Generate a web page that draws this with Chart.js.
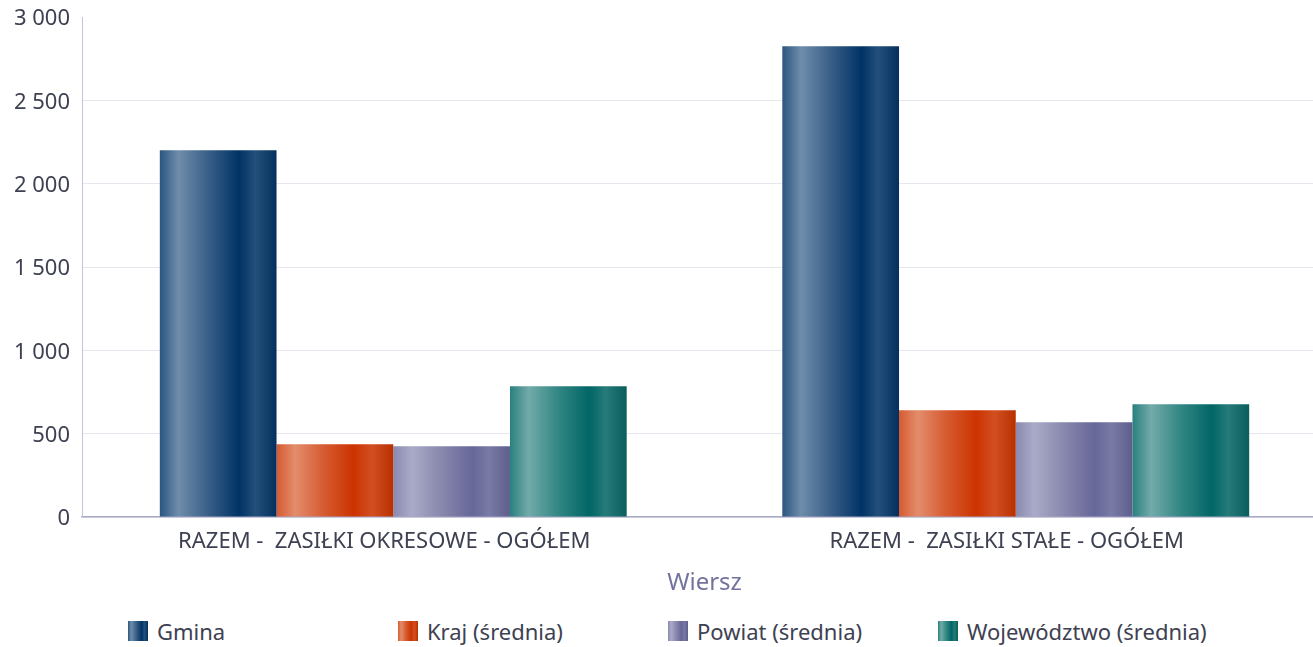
<!DOCTYPE html>
<html lang="pl">
<head>
    <meta charset="UTF-8">
    <title>Wykres</title>
    <script src="https://cdn.jsdelivr.net/npm/chart.js"></script>
    <style>
        body { margin: 0; width: 1313px; height: 647px; overflow: hidden; background: #fff; font-family: "Noto Sans", sans-serif; }
        .wykres { position: relative; width: 1327px; height: 600px; }
        .legenda { position: absolute; left: 128px; top: 616px; display: flex; }
        .pozycja { width: 270px; display: flex; align-items: center; font-size: 22px; color: #3d4151; }
        .kwadrat { width: 20px; height: 20px; margin-right: 9px; }
    </style>
</head>
<body>

    <div class="wykres">
        <canvas id="myChart"></canvas>
    </div>
    <div class="legenda" id="legenda"></div>

<script>

    // dane
    var kategorie = ['RAZEM -  ZASIŁKI OKRESOWE - OGÓŁEM', 'RAZEM -  ZASIŁKI STAŁE - OGÓŁEM'];
    var serie = ['Gmina', 'Kraj (średnia)', 'Powiat (średnia)', 'Województwo (średnia)'];
    var gmina = [2200, 2824];
    var kraj = [436, 640];
    var powiat = [424, 568];
    var wojewodztwo = [784, 676];
    var osY = { min: 0, max: 3000, krok: 500 };

    // gradienty w poziomie dla kazdego slupka
    var kolory = [
        [[0, '#2b5580'], [0.16, '#6f8dab'], [0.4, '#3c6189'], [0.68, '#003366'], [0.82, '#244f7a'], [1, '#03305e']],
        [[0, '#d65a30'], [0.16, '#e38d6c'], [0.4, '#d65c32'], [0.66, '#cc3300'], [0.82, '#d24f22'], [1, '#b83000']],
        [[0, '#8a8ab0'], [0.16, '#aaaac8'], [0.4, '#8a89ae'], [0.68, '#666699'], [0.82, '#7a7aa6'], [1, '#5e5e8c']],
        [[0, '#2a8080'], [0.16, '#72aba9'], [0.4, '#358885'], [0.68, '#006666'], [0.82, '#267b79'], [1, '#095e5e']]
    ];

    var gradientSlupki = {
        id: 'gradientSlupki',
        beforeDatasetsDraw: function (chart) {
            var ctx = chart.ctx;
            chart.data.datasets.forEach(function (ds, i) {
                chart.getDatasetMeta(i).data.forEach(function (bar) {
                    var g = ctx.createLinearGradient(bar.x - bar.width / 2, 0, bar.x + bar.width / 2, 0);
                    kolory[i].forEach(function (s) { g.addColorStop(s[0], s[1]); });
                    bar.options = Object.assign({}, bar.options, { backgroundColor: g });
                });
            });
        }
    };

    function spacje(v) {
        return v.toString().replace(/\B(?=(\d{3})+(?!\d))/g, ' ');
    }

    var dane = [gmina, kraj, powiat, wojewodztwo];

    const config = {
        type: 'bar',
        data: {
            labels: kategorie,
            datasets: serie.map(function (nazwa, i) {
                return {
                    label: nazwa,
                    data: dane[i],
                    backgroundColor: kolory[i][5][1],
                    borderWidth: 0,
                    categoryPercentage: 0.75,
                    barPercentage: 1
                };
            })
        },
        options: {
            responsive: true,
            maintainAspectRatio: false,
            animation: false,
            layout: { padding: { top: 17, left: 0, right: 0, bottom: 0 } },
            plugins: {
                legend: { display: false },
                tooltip: { enabled: false }
            },
            scales: {
                x: {
                    grid: { display: false, drawTicks: false },
                    border: { color: '#a9a9c8', width: 1.5 },
                    ticks: {
                        color: '#3d4151',
                        font: { family: 'Noto Sans', size: 22 },
                        padding: 12,
                        labelOffset: -9,
                        maxRotation: 0
                    },
                    title: {
                        display: true,
                        text: 'Wiersz',
                        color: '#7373a0',
                        font: { family: 'Noto Sans', size: 24 },
                        padding: { top: 0, bottom: 2 }
                    },
                    afterFit: function (scale) { scale.height = 83; }
                },
                y: {
                    min: osY.min,
                    max: osY.max,
                    grid: {
                        drawTicks: false,
                        color: function (c) { return c.tick && c.tick.value === osY.max ? 'rgba(0,0,0,0)' : '#e6e6ef'; }
                    },
                    border: { color: '#c3c3d9', width: 1 },
                    ticks: {
                        stepSize: osY.krok,
                        color: '#3d4151',
                        font: { family: 'Noto Sans', size: 22 },
                        padding: 12,
                        labelOffset: 2,
                        callback: function (v) { return spacje(v); }
                    },
                    afterFit: function (scale) {
                        scale.width = 82;
                        scale.paddingTop = 0;
                        scale.paddingBottom = 0;
                    }
                }
            }
        },
        plugins: [gradientSlupki]
    };

    const myChart = new Chart(document.getElementById('myChart'), config);

    // legenda
    var legenda = document.getElementById('legenda');
    serie.forEach(function (nazwa, i) {
        var poz = document.createElement('div');
        poz.className = 'pozycja';
        var kw = document.createElement('span');
        kw.className = 'kwadrat';
        kw.style.background = 'linear-gradient(to right, ' + kolory[i].map(function (s) { return s[1] + ' ' + (s[0] * 100) + '%'; }).join(', ') + ')';
        var tekst = document.createElement('span');
        tekst.textContent = nazwa;
        poz.appendChild(kw);
        poz.appendChild(tekst);
        legenda.appendChild(poz);
    });

</script>
</body>
</html>
